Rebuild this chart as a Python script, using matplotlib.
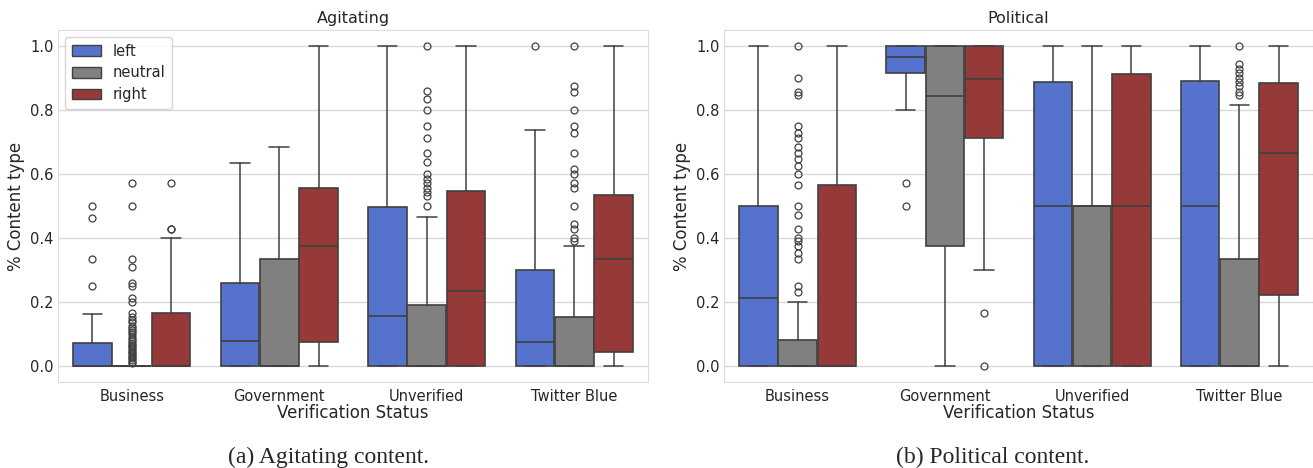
import matplotlib
matplotlib.use("Agg")
import matplotlib.pyplot as plt
import seaborn as sns
from matplotlib.patches import Patch

categories = ["Business", "Government", "Unverified", "Twitter Blue"]
hues = ["left", "neutral", "right"]
base_colors = ["royalblue", "gray", "brown"]

# box stats, order: category-major, hue-minor (left, neutral, right)
agit_q1 = [0, 0, 0, 0, 0, 0.076, 0, 0, 0, 0, 0, 0.045]
agit_med = [0, 0, 0, 0.079, 0, 0.374, 0.157, 0, 0.233, 0.076, 0, 0.333]
agit_q3 = [0.071, 0, 0.166, 0.26, 0.333, 0.555, 0.496, 0.19, 0.547, 0.299, 0.153, 0.535]
agit_lo = [0, 0, 0, 0, 0, 0, 0, 0, 0, 0, 0, 0]
agit_hi = [0.161, 0, 0.4, 0.635, 0.683, 1.0, 1.0, 0.466, 1.0, 0.738, 0.374, 1.0]
agit_fliers = [
    [0.5, 0.461, 0.333, 0.25],
    [0.571, 0.5, 0.333, 0.31, 0.258, 0.25, 0.211, 0.2, 0.167, 0.154, 0.143,
     0.136, 0.125, 0.118, 0.111, 0.105, 0.1, 0.091, 0.083, 0.077, 0.071,
     0.067, 0.0625, 0.056, 0.05, 0.045, 0.04, 0.033, 0.029, 0.025, 0.02,
     0.014, 0.01],
    [0.571, 0.429, 0.428],
    [], [], [],
    [],
    [1.0, 0.86, 0.833, 0.8, 0.75, 0.714, 0.667, 0.636, 0.6, 0.583, 0.571,
     0.556, 0.545, 0.53, 0.5],
    [],
    [1.0],
    [1.0, 0.875, 0.857, 0.8, 0.75, 0.727, 0.667, 0.615, 0.6, 0.571, 0.556,
     0.5, 0.444, 0.429, 0.4, 0.391],
    [],
]

pol_q1 = [0, 0, 0, 0.917, 0.374, 0.713, 0, 0, 0, 0, 0, 0.223]
pol_med = [0.214, 0, 0, 0.967, 0.844, 0.896, 0.5, 0.5, 0.5, 0.5, 0, 0.665]
pol_q3 = [0.5, 0.08, 0.567, 1.0, 1.0, 1.0, 0.889, 0.5, 0.911, 0.891, 0.333, 0.883]
pol_lo = [0, 0, 0, 0.8, 0, 0.3, 0, 0, 0, 0, 0, 0]
pol_hi = [1.0, 0.2, 1.0, 1.0, 1.0, 1.0, 1.0, 1.0, 1.0, 1.0, 0.816, 1.0]
pol_fliers = [
    [],
    [1.0, 0.9, 0.857, 0.846, 0.75, 0.727, 0.714, 0.684, 0.667, 0.647, 0.625,
     0.6, 0.565, 0.5, 0.471, 0.429, 0.4, 0.391, 0.375, 0.353, 0.333, 0.25,
     0.231],
    [],
    [0.571, 0.5], [], [0.167, 0.0],
    [], [], [],
    [], [1.0, 0.944, 0.929, 0.917, 0.9, 0.889, 0.875, 0.857, 0.846], [],
]

sns.set_style("whitegrid")
plt.rcParams["font.family"] = ["DejaVu Sans"]

colors = [sns.desaturate(c, 0.75) for c in base_colors]
line_col = "#404040"
bw = 0.8 / 3


def draw_panel(ax, q1, med, q3, lo, hi, fliers, title):
    stats = []
    positions = []
    face = []
    for i in range(len(categories)):
        for j in range(len(hues)):
            k = i * len(hues) + j
            stats.append(dict(q1=q1[k], med=med[k], q3=q3[k],
                              whislo=lo[k], whishi=hi[k], fliers=fliers[k]))
            positions.append(i + (j - 1) * bw)
            face.append(colors[j])
    art = ax.bxp(stats, positions=positions, widths=bw * 0.98,
                 capwidths=bw / 2, patch_artist=True, manage_ticks=False,
                 boxprops=dict(edgecolor=line_col, linewidth=1.2),
                 medianprops=dict(color=line_col, linewidth=1.2),
                 whiskerprops=dict(color=line_col, linewidth=1.1),
                 capprops=dict(color=line_col, linewidth=1.1),
                 flierprops=dict(marker="o", markerfacecolor="none",
                                 markeredgecolor=line_col, markersize=5,
                                 markeredgewidth=0.9))
    for patch, c in zip(art["boxes"], face):
        patch.set_facecolor(c)
    ax.set_xlim(-0.5, len(categories) - 0.5)
    ax.set_ylim(-0.05, 1.05)
    ax.set_xticks(range(len(categories)))
    ax.set_xticklabels(categories, fontsize=10.5)
    ax.set_yticks([0, 0.2, 0.4, 0.6, 0.8, 1.0])
    ax.set_yticklabels(["0.0", "0.2", "0.4", "0.6", "0.8", "1.0"], fontsize=10.5)
    ax.xaxis.grid(False)
    ax.yaxis.grid(True, color="#d9d9d9", linewidth=1.0)
    ax.set_axisbelow(True)
    for s in ax.spines.values():
        s.set_color("#dcdcdc")
    ax.tick_params(axis="x", length=0, pad=5)
    ax.tick_params(axis="y", length=0, pad=3)
    ax.set_title(title, fontsize=11.5, pad=5)
    ax.set_xlabel("Verification Status", fontsize=12, labelpad=0)
    ax.set_ylabel("% Content type", fontsize=12, labelpad=4)


fig = plt.figure(figsize=(13.13, 4.68), dpi=100)
ax1 = fig.add_axes([58 / 1313, 1 - 382 / 468, 590 / 1313, 352 / 468])
ax2 = fig.add_axes([724 / 1313, 1 - 382 / 468, 589 / 1313, 352 / 468])

draw_panel(ax1, agit_q1, agit_med, agit_q3, agit_lo, agit_hi, agit_fliers, "Agitating")
draw_panel(ax2, pol_q1, pol_med, pol_q3, pol_lo, pol_hi, pol_fliers, "Political")

handles = [Patch(facecolor=c, edgecolor=line_col, linewidth=1.0, label=h)
           for c, h in zip(colors, hues)]
ax1.legend(handles=handles, loc="upper left", fontsize=10.5, frameon=True,
           handlelength=2.0, handleheight=0.75, borderpad=0.45,
           labelspacing=0.45, handletextpad=0.8)

fig.text(329 / 1313, 1 - 463 / 468, "(a) Agitating content.", ha="center",
         va="baseline", fontsize=17, family=["Liberation Serif"])
fig.text(993 / 1313, 1 - 463 / 468, "(b) Political content.", ha="center",
         va="baseline", fontsize=17, family=["Liberation Serif"])

fig.savefig("out.png", dpi=100)
